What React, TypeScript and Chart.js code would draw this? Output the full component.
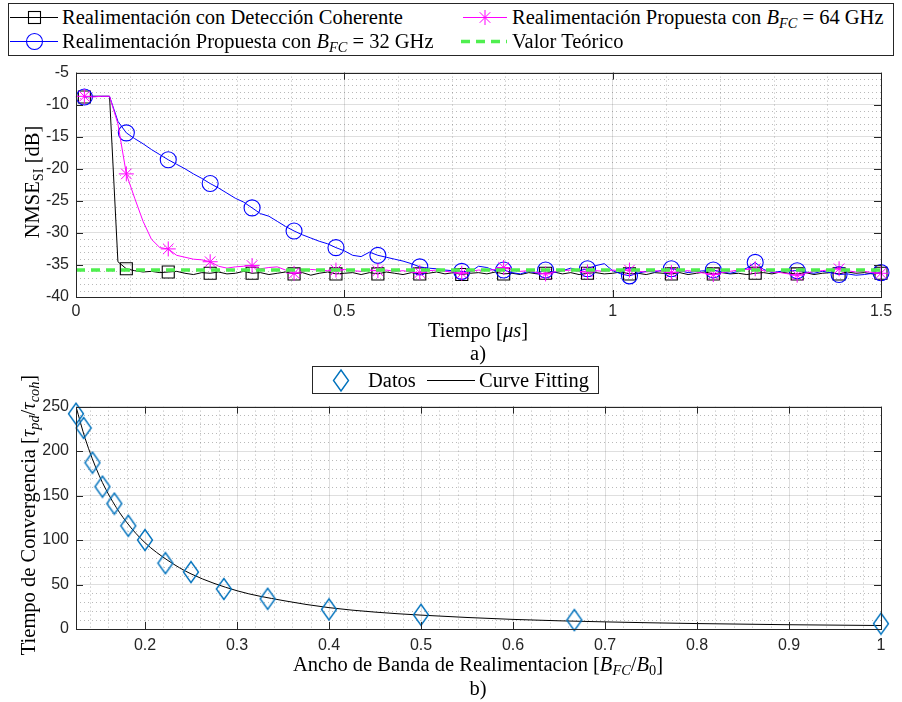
import React, { useEffect, useRef } from 'react';
import { Chart, registerables } from 'chart.js';

Chart.register(...registerables);

// ---------------- Data: panel a) ----------------
const timeUs = [
  0.0156, 0.0313, 0.0469, 0.0625, 0.0781, 0.0938, 0.1094, 0.125, 0.1406, 0.1563,
  0.1719, 0.1875, 0.2031, 0.2188, 0.2344, 0.25, 0.2656, 0.2813, 0.2969, 0.3125,
  0.3281, 0.3438, 0.3594, 0.375, 0.3906, 0.4063, 0.4219, 0.4375, 0.4531, 0.4688,
  0.4844, 0.5, 0.5156, 0.5313, 0.5469, 0.5625, 0.5781, 0.5938, 0.6094, 0.625,
  0.6406, 0.6563, 0.6719, 0.6875, 0.7031, 0.7188, 0.7344, 0.75, 0.7656, 0.7813,
  0.7969, 0.8125, 0.8281, 0.8438, 0.8594, 0.875, 0.8906, 0.9063, 0.9219, 0.9375,
  0.9531, 0.9688, 0.9844, 1.0, 1.0156, 1.0313, 1.0469, 1.0625, 1.0781, 1.0938,
  1.1094, 1.125, 1.1406, 1.1563, 1.1719, 1.1875, 1.2031, 1.2188, 1.2344, 1.25,
  1.2656, 1.2813, 1.2969, 1.3125, 1.3281, 1.3438, 1.3594, 1.375, 1.3906, 1.4063,
  1.4219, 1.4375, 1.4531, 1.4688, 1.4844, 1.5,
];

const nmseCoherent = [
  -8.8, -8.7, -8.7, -8.7, -34.5, -35.6, -35.9, -36.1, -36.0, -36.2,
  -36.1, -36.0, -36.3, -36.5, -36.2, -36.3, -36.1, -36.4, -36.3, -36.0,
  -36.3, -36.2, -36.5, -36.3, -36.1, -36.4, -36.2, -36.6, -36.3, -36.1,
  -36.4, -36.3, -36.2, -36.5, -36.2, -36.4, -36.1, -36.3, -36.5, -36.2,
  -36.4, -36.3, -36.1, -36.4, -36.2, -36.5, -36.3, -36.2, -36.4, -36.1,
  -36.4, -36.3, -36.5, -36.2, -36.4, -36.3, -36.1, -36.4, -36.2, -36.5,
  -36.3, -36.2, -36.4, -36.3, -36.1, -36.4, -36.3, -36.5, -36.2, -36.3,
  -36.4, -36.2, -36.5, -36.3, -36.1, -36.4, -36.2, -36.4, -36.3, -36.5,
  -36.3, -36.2, -36.4, -36.1, -36.3, -36.4, -36.2, -36.5, -36.3, -36.2,
  -36.4, -36.1, -36.3, -36.2, -36.4, -36.3,
];

const nmseProposed32 = [
  -8.8, -8.7, -8.7, -8.7, -12.6, -14.4, -15.3, -16.1, -17.0, -17.8,
  -18.6, -19.3, -20.0, -20.8, -21.5, -22.3, -23.0, -23.8, -24.6, -25.2,
  -26.1, -27.0, -27.4, -28.2, -29.0, -29.7, -30.3, -30.8, -31.3, -31.7,
  -32.3, -32.8, -33.5, -33.7, -33.0, -33.5, -33.8, -34.1, -34.4, -34.8,
  -35.3, -35.5, -35.6, -35.8, -35.9, -36.0, -36.1, -35.2, -35.4, -35.9,
  -35.8, -36.2, -36.4, -36.0, -36.3, -35.8, -36.2, -35.9, -35.5, -35.9,
  -35.6, -35.1, -34.8, -35.9, -36.4, -36.7, -36.3, -36.0, -36.1, -35.8,
  -35.6, -35.9, -36.2, -36.0, -35.9, -35.8, -36.1, -36.3, -36.0, -35.5,
  -34.6, -35.7, -36.2, -36.0, -35.9, -35.9, -36.1, -36.3, -36.0, -36.2,
  -36.5, -36.4, -36.6, -36.5, -36.3, -36.2,
];

const nmseProposed64 = [
  -8.7, -8.8, -8.7, -8.7, -13.0, -20.8, -24.6, -28.2, -31.0, -32.3,
  -32.5, -33.5, -33.8, -34.1, -34.2, -34.5, -35.2, -35.5, -35.3, -35.2,
  -35.1, -35.6, -35.4, -35.3, -35.8, -36.3, -36.0, -35.7, -35.8, -35.9,
  -35.8, -35.7, -35.9, -36.0, -35.8, -35.9, -35.8, -36.0, -35.9, -36.1,
  -36.2, -35.9, -35.8, -36.0, -36.1, -36.3, -36.0, -35.8, -35.9, -35.7,
  -35.4, -35.8, -36.0, -35.9, -36.2, -36.4, -36.1, -35.9, -35.8, -36.0,
  -36.1, -35.9, -36.0, -35.8, -35.9, -35.8, -36.0, -36.1, -35.9, -36.0,
  -36.2, -36.0, -35.9, -36.1, -36.3, -36.5, -36.2, -36.0, -35.8, -35.7,
  -35.6, -35.9, -36.1, -36.2, -36.4, -36.6, -36.3, -36.0, -35.9, -35.7,
  -35.6, -35.9, -36.1, -36.0, -36.2, -36.3,
];

const theoreticalNmse = -35.8;
const markerEvery = 5;

const timeTicks = [0, 0.5, 1, 1.5];
const nmseTicks = [-40, -35, -30, -25, -20, -15, -10, -5];

// ---------------- Data: panel b) ----------------
const bandwidthRatio = [0.125, 0.1333, 0.1429, 0.1538, 0.1667, 0.1818, 0.2, 0.2222, 0.25, 0.2857, 0.3333, 0.4, 0.5, 0.6667, 1];
const convergenceTime = [242, 226, 187, 160, 141, 116, 100, 74, 64, 45, 34, 22, 16, 10, 6];

const fitBandwidth = [0.125, 0.135, 0.15, 0.165, 0.18, 0.2, 0.225, 0.25, 0.3, 0.35, 0.4, 0.45, 0.5, 0.6, 0.7, 0.8, 0.9, 1];
const fitConvergence = [250, 214, 173, 143, 120, 97, 77, 62, 43, 32, 24, 19, 15.6, 10.8, 8, 6.1, 4.8, 3.9];

const bandwidthTicks = [0.2, 0.3, 0.4, 0.5, 0.6, 0.7, 0.8, 0.9, 1];
const convergenceTicks = [0, 50, 100, 150, 200, 250];

// ---------------- Styling ----------------
const SERIF = "'Liberation Serif', 'Times New Roman', serif";
const SANS = "'Liberation Sans', Arial, Helvetica, sans-serif";
const AXIS = '#262626';
const TEXT_SIZE = 20.5;

function isMajor(v: number, step: number) {
  const r = v / step;
  return Math.abs(r - Math.round(r)) < 1e-6;
}

const matlabAxes = {
  id: 'matlabAxes',
  beforeDatasetsDraw(chart: any, _args: any, opts: any) {
    const { ctx, chartArea: a } = chart;
    const xs = chart.scales.x;
    const ys = chart.scales.y;
    ctx.save();
    ctx.beginPath();
    ctx.rect(a.left, a.top, a.right - a.left, a.bottom - a.top);
    ctx.clip();
    ctx.strokeStyle = 'rgba(38,38,38,0.32)';
    ctx.lineWidth = 1;
    ctx.setLineDash([1, 3]);
    const eps = 1e-9;
    let v = Math.ceil(xs.min / opts.xMinor - eps) * opts.xMinor;
    for (; v < xs.max - eps; v += opts.xMinor) {
      if (isMajor(v, opts.xMajor)) continue;
      const p = Math.round(xs.getPixelForValue(v)) + 0.5;
      ctx.beginPath();
      ctx.moveTo(p, a.top);
      ctx.lineTo(p, a.bottom);
      ctx.stroke();
    }
    v = Math.ceil(ys.min / opts.yMinor - eps) * opts.yMinor;
    for (; v < ys.max - eps; v += opts.yMinor) {
      if (isMajor(v, opts.yMajor)) continue;
      const p = Math.round(ys.getPixelForValue(v)) + 0.5;
      ctx.beginPath();
      ctx.moveTo(a.left, p);
      ctx.lineTo(a.right, p);
      ctx.stroke();
    }
    ctx.restore();
  },
  afterDraw(chart: any) {
    const { ctx, chartArea: a } = chart;
    const xs = chart.scales.x;
    const ys = chart.scales.y;
    const L = 7;
    ctx.save();
    ctx.strokeStyle = AXIS;
    ctx.lineWidth = 1;
    ctx.setLineDash([]);
    ctx.strokeRect(Math.round(a.left) + 0.5, Math.round(a.top) + 0.5, Math.round(a.right - a.left), Math.round(a.bottom - a.top));
    ctx.beginPath();
    for (const t of xs.ticks) {
      const p = Math.round(xs.getPixelForValue(t.value)) + 0.5;
      ctx.moveTo(p, a.bottom);
      ctx.lineTo(p, a.bottom - L);
      ctx.moveTo(p, a.top);
      ctx.lineTo(p, a.top + L);
    }
    for (const t of ys.ticks) {
      const p = Math.round(ys.getPixelForValue(t.value)) + 0.5;
      ctx.moveTo(a.left, p);
      ctx.lineTo(a.left + L, p);
      ctx.moveTo(a.right, p);
      ctx.lineTo(a.right - L, p);
    }
    ctx.stroke();
    ctx.restore();
  },
};

function scaleOpts(min: number, max: number, ticks: number[], size: number, isX: boolean, pad: number) {
  return {
    type: 'linear',
    min,
    max,
    afterBuildTicks: (s: any) => {
      s.ticks = ticks.map((value) => ({ value }));
    },
    afterFit: (s: any) => {
      if (isX) s.height = size;
      else s.width = size;
    },
    ticks: {
      autoSkip: false,
      maxRotation: 0,
      padding: pad,
      color: AXIS,
      font: { family: SANS, size: 16 },
      callback: (v: number) => String(v),
    },
    grid: { color: 'rgba(38,38,38,0.15)', drawTicks: false, lineWidth: 1 },
    border: { display: false },
  };
}

function makeDiamond(color: string) {
  const c = document.createElement('canvas');
  c.width = 18;
  c.height = 24;
  const g = c.getContext('2d')!;
  g.strokeStyle = color;
  g.lineWidth = 1.4;
  g.beginPath();
  g.moveTo(9, 1.5);
  g.lineTo(16.5, 12);
  g.lineTo(9, 22.5);
  g.lineTo(1.5, 12);
  g.closePath();
  g.stroke();
  return c;
}

const pts = (xs: number[], ys: number[]) => xs.map((x, i) => ({ x, y: ys[i] }));

function Label(props: { x: number; y: number; size?: number; center?: boolean; rotate?: boolean; children: any }) {
  const { x, y, size = TEXT_SIZE, center = false, rotate = false, children } = props;
  let transform = 'translateY(-50%)';
  if (center) transform = 'translate(-50%,-50%)';
  if (rotate) transform = 'translate(-50%,-50%) rotate(-90deg)';
  return (
    <div
      style={{
        position: 'absolute',
        left: x,
        top: y,
        transform,
        fontFamily: SERIF,
        fontSize: size,
        lineHeight: '1.2',
        whiteSpace: 'nowrap',
        color: '#000',
      }}
    >
      {children}
    </div>
  );
}

const subStyle: any = { fontSize: '0.7em', verticalAlign: '-0.3em', lineHeight: 0 };

export default function App() {
  const topRef = useRef<HTMLCanvasElement>(null);
  const botRef = useRef<HTMLCanvasElement>(null);

  useEffect(() => {
    const marker = (r: number) => (c: any) => (c.dataIndex % markerEvery === 0 ? r : 0);
    const top = new Chart(topRef.current!, {
      type: 'line',
      data: {
        datasets: [
          {
            label: 'Valor Teórico',
            data: [
              { x: timeTicks[0], y: theoreticalNmse },
              { x: timeTicks[timeTicks.length - 1], y: theoreticalNmse },
            ],
            borderColor: '#4FEF4F',
            borderWidth: 3.5,
            borderDash: [9, 6],
            pointRadius: 0,
            order: 0,
          },
          {
            label: 'Realimentación Propuesta con BFC = 64 GHz',
            data: pts(timeUs, nmseProposed64),
            borderColor: '#FF00FF',
            borderWidth: 1,
            pointStyle: 'star',
            pointRadius: marker(7.5),
            pointBorderColor: '#FF00FF',
            pointBackgroundColor: 'rgba(0,0,0,0)',
            pointBorderWidth: 1,
            clip: false,
            order: 1,
          },
          {
            label: 'Realimentación Propuesta con BFC = 32 GHz',
            data: pts(timeUs, nmseProposed32),
            borderColor: '#0000FF',
            borderWidth: 1,
            pointStyle: 'circle',
            pointRadius: marker(8),
            pointBorderColor: '#0000FF',
            pointBackgroundColor: 'rgba(0,0,0,0)',
            pointBorderWidth: 1.1,
            clip: false,
            order: 2,
          },
          {
            label: 'Realimentación con Detección Coherente',
            data: pts(timeUs, nmseCoherent),
            borderColor: '#000000',
            borderWidth: 1,
            pointStyle: 'rect',
            pointRadius: marker(8.5),
            pointBorderColor: '#000000',
            pointBackgroundColor: 'rgba(0,0,0,0)',
            pointBorderWidth: 1.1,
            clip: false,
            order: 3,
          },
        ],
      },
      options: {
        animation: false,
        responsive: false,
        devicePixelRatio: 1,
        layout: { padding: { top: 10, right: 21, left: 0, bottom: 0 } },
        elements: { line: { tension: 0 } },
        plugins: { legend: { display: false }, tooltip: { enabled: false }, matlabAxes: { xMinor: 0.1, xMajor: 0.5, yMinor: 1, yMajor: 5 } } as any,
        scales: {
          x: scaleOpts(0, 1.5, timeTicks, 28, true, 5) as any,
          y: scaleOpts(-40, -5, nmseTicks, 76, false, 7) as any,
        },
      },
      plugins: [matlabAxes],
    });

    const diamond = makeDiamond('#0072BD');
    const bot = new Chart(botRef.current!, {
      type: 'line',
      data: {
        datasets: [
          {
            label: 'Curve Fitting',
            data: pts(fitBandwidth, fitConvergence),
            borderColor: '#000000',
            borderWidth: 1,
            pointRadius: 0,
            cubicInterpolationMode: 'monotone',
            order: 1,
          },
          {
            label: 'Datos',
            data: pts(bandwidthRatio, convergenceTime),
            showLine: false,
            pointStyle: diamond as any,
            pointRadius: 10,
            clip: false,
            order: 0,
          },
        ],
      },
      options: {
        animation: false,
        responsive: false,
        devicePixelRatio: 1,
        layout: { padding: { top: 10, right: 21, left: 0, bottom: 0 } },
        plugins: { legend: { display: false }, tooltip: { enabled: false }, matlabAxes: { xMinor: 0.02, xMajor: 0.1, yMinor: 10, yMajor: 50 } } as any,
        scales: {
          x: scaleOpts(0.125, 1, bandwidthTicks, 30, true, 7) as any,
          y: scaleOpts(0, 250, convergenceTicks, 76, false, 7) as any,
        },
      },
      plugins: [matlabAxes],
    });

    return () => {
      top.destroy();
      bot.destroy();
    };
  }, []);

  const B = (s: string) => (
    <span>
      <i>B</i>
      <span style={{ ...subStyle, fontStyle: 'italic' }}>{s}</span>
    </span>
  );

  return (
    <div style={{ position: 'absolute', left: 0, top: 0, width: 902, height: 702, background: '#fff', overflow: 'hidden' }}>
      <canvas ref={topRef} width={902} height={269} style={{ position: 'absolute', left: 0, top: 56, width: 902, height: 269 }} />
      <canvas ref={botRef} width={902} height={269} style={{ position: 'absolute', left: 0, top: 390, width: 902, height: 269 }} />

      <svg width={902} height={702} style={{ position: 'absolute', left: 0, top: 0, pointerEvents: 'none' }}>
        {/* legend a) */}
        <rect x={8.5} y={3.5} width={885} height={52} fill="#fff" stroke={AXIS} strokeWidth={1} />
        <line x1={10} y1={17.5} x2={58} y2={17.5} stroke="#000" strokeWidth={1} />
        <rect x={28.5} y={11.5} width={12} height={12} fill="none" stroke="#000" strokeWidth={1.1} />
        <line x1={10} y1={41.5} x2={58} y2={41.5} stroke="#0000FF" strokeWidth={1} />
        <circle cx={34.5} cy={41.5} r={8} fill="none" stroke="#0000FF" strokeWidth={1.1} />
        <line x1={463} y1={17.5} x2={507} y2={17.5} stroke="#FF00FF" strokeWidth={1} />
        <g stroke="#FF00FF" strokeWidth={1}>
          <line x1={485} y1={10} x2={485} y2={25} />
          <line x1={477.5} y1={17.5} x2={492.5} y2={17.5} />
          <line x1={479.7} y1={12.2} x2={490.3} y2={22.8} />
          <line x1={479.7} y1={22.8} x2={490.3} y2={12.2} />
        </g>
        <line x1={461} y1={41.5} x2={507} y2={41.5} stroke="#4FEF4F" strokeWidth={3.5} strokeDasharray="9 6" />
        {/* legend b) */}
        <rect x={312.5} y={366.5} width={286} height={27} fill="#fff" stroke={AXIS} strokeWidth={1} />
        <path d="M341 370 L348.5 380.5 L341 391 L333.5 380.5 Z" fill="none" stroke="#0072BD" strokeWidth={1.4} />
        <line x1={427} y1={380.5} x2={475} y2={380.5} stroke="#000" strokeWidth={1} />
      </svg>

      {/* legend a) text */}
      <Label x={62} y={17}>Realimentación con Detección Coherente</Label>
      <Label x={512} y={17}>
        Realimentación Propuesta con {B('FC')} = 64 GHz
      </Label>
      <Label x={62} y={41}>
        Realimentación Propuesta con {B('FC')} = 32 GHz
      </Label>
      <Label x={512} y={41}>Valor Teórico</Label>

      {/* axis titles a) */}
      <Label x={32} y={182} rotate>
        NMSE<span style={subStyle}>SI</span> [dB]
      </Label>
      <Label x={478} y={330} center>
        Tiempo [<i>μs</i>]
      </Label>
      <Label x={478} y={353} center>
        a)
      </Label>

      {/* legend b) text */}
      <Label x={368} y={380}>Datos</Label>
      <Label x={479} y={380}>Curve Fitting</Label>

      {/* axis titles b) */}
      <Label x={28} y={515} rotate>
        Tiempo de Convergencia [<i>τ</i>
        <span style={{ ...subStyle, fontStyle: 'italic' }}>pd</span>/<i>τ</i>
        <span style={{ ...subStyle, fontStyle: 'italic' }}>coh</span>]
      </Label>
      <Label x={478} y={664} center>
        Ancho de Banda de Realimentacion [{B('FC')}/<i>B</i>
        <span style={subStyle}>0</span>]
      </Label>
      <Label x={478} y={688} center>
        b)
      </Label>
    </div>
  );
}
